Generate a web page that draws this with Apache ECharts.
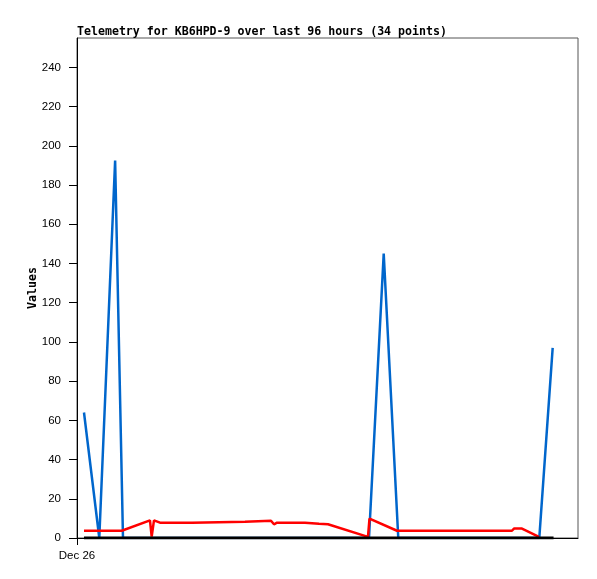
<!DOCTYPE html>
<html>
<head>
<meta charset="utf-8">
<script src="https://cdn.jsdelivr.net/npm/echarts@6/dist/echarts.min.js"></script>
<style>
  html, body { margin: 0; padding: 0; background: #fff; }
  #chart { width: 597px; height: 579px; }
</style>
</head>
<body>
<div id="chart"></div>
<script>
// x values are hours since Dec 26 00:00
var titleText = "Telemetry for KB6HPD-9 over last 96 hours (34 points)";
var xLabelText = "Dec 26";
var yTicks = [0, 20, 40, 60, 80, 100, 120, 140, 160, 180, 200, 220, 240];

var blueHours = [1.43, 4.56, 7.8, 9.41, 59.74, 62.75, 65.73, 94.58, 97.32];
var blueValues = [64, 0, 192.5, 0, 0, 145, 0, 0, 97];

var redHours = [1.43, 9.15, 14.93, 15.28, 15.75, 16.98, 23.53, 23.73, 34.37, 34.57,
  39.69, 40.3, 40.92, 46.64, 46.85, 49.51, 51.35, 59.53, 59.84, 65.47,
  88.99, 89.4, 91.04, 94.52];
var redValues = [3.7, 3.7, 9.0, 0.7, 9.0, 7.8, 7.8, 8.3, 8.3, 8.8,
  8.8, 7.0, 7.8, 7.8, 7.3, 7.3, 7.0, 0.6, 9.9, 3.7,
  3.7, 4.8, 4.8, 0.6];

var blackHours = [1.43, 97.5];
var blackValues = [0, 0];

function pairs(xs, ys) {
  return xs.map(function (x, i) { return [x, ys[i]]; });
}

var chart = echarts.init(document.getElementById("chart"));

var option = {
  animation: false,
  title: {
    text: titleText,
    left: 77,
    top: 26,
    padding: 0,
    textStyle: {
      fontFamily: "DejaVu Sans Mono",
      fontWeight: "bold",
      fontSize: 11.6,
      color: "#000"
    }
  },
  grid: {
    left: 77,
    top: 38,
    right: 19,
    bottom: 41,
    show: true,
    borderColor: "#555",
    borderWidth: 1,
    backgroundColor: "#fff"
  },
  xAxis: {
    type: "value",
    min: 0,
    max: 102.5,
    splitLine: { show: false },
    axisLine: { onZero: false, lineStyle: { color: "#000", width: 1 } },
    axisTick: { show: true, customValues: [0], length: 7, lineStyle: { color: "#000" } },
    axisLabel: {
      customValues: [0],
      formatter: function () { return xLabelText; },
      margin: 12,
      fontFamily: "Liberation Sans",
      fontSize: 11.5,
      color: "#000"
    }
  },
  yAxis: {
    type: "value",
    min: 0,
    max: 255,
    name: "Values",
    nameLocation: "middle",
    nameRotate: 90,
    nameGap: 38,
    nameMoveOverlap: false,
    nameTextStyle: {
      fontFamily: "DejaVu Sans Mono",
      fontWeight: "bold",
      fontSize: 11.6,
      color: "#000"
    },
    splitLine: { show: false },
    axisLine: { show: true, lineStyle: { color: "#000", width: 1 } },
    axisTick: { show: true, customValues: yTicks, length: 8, lineStyle: { color: "#000" } },
    axisLabel: {
      customValues: yTicks,
      margin: 16,
      fontFamily: "Liberation Sans",
      fontSize: 11.5,
      color: "#000"
    }
  },
  series: [
    {
      name: "blue",
      type: "line",
      data: pairs(blueHours, blueValues),
      showSymbol: false,
      lineStyle: { color: "#0066cc", width: 2.5 },
      z: 2
    },
    {
      name: "red",
      type: "line",
      data: pairs(redHours, redValues),
      showSymbol: false,
      lineStyle: { color: "#ff0000", width: 2.5 },
      z: 3
    },
    {
      name: "black",
      type: "line",
      data: pairs(blackHours, blackValues),
      showSymbol: false,
      lineStyle: { color: "#000", width: 3 },
      z: 4
    }
  ]
};

chart.setOption(option);
</script>
</body>
</html>
